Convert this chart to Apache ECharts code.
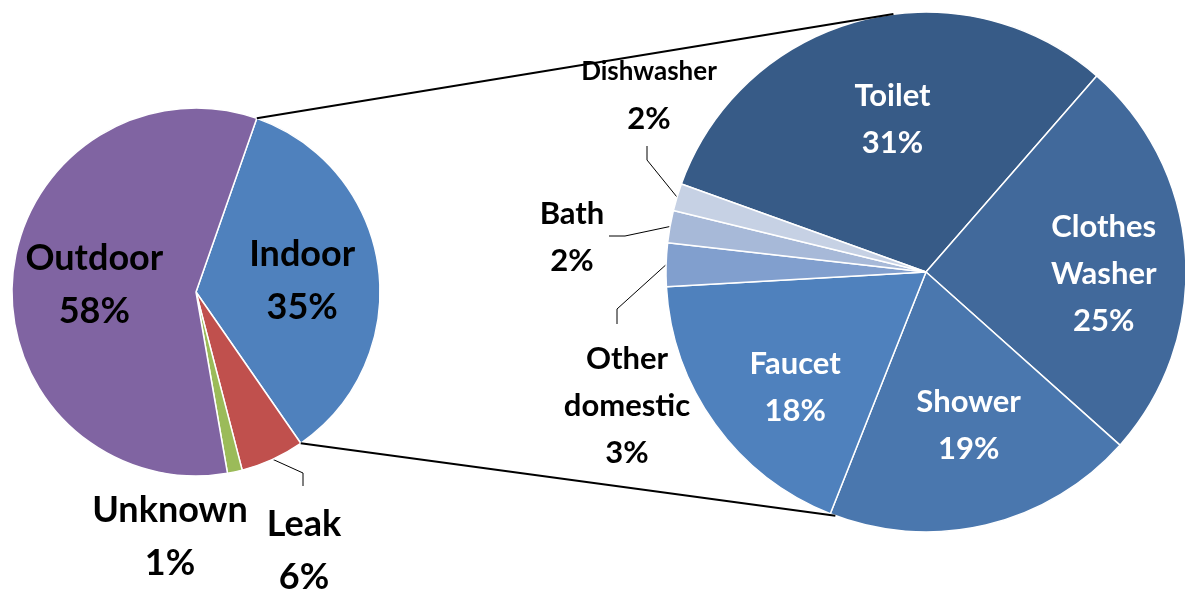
<!DOCTYPE html>
<html>
<head>
	<meta charset="UTF-8">
	<title>Water use pie of pie</title>
	<script src="https://cdn.jsdelivr.net/npm/echarts@6/dist/echarts.min.js"></script>
	<style>
		html, body { margin: 0; padding: 0; background: #fff; }
		#chart { width: 1185px; height: 594px; }
	</style>
</head>
<body>
	<div id="chart"></div>
<script type="text/javascript">
	// main pie (share of all use, %)
	var leftNames = ['Indoor', 'Leak', 'Unknown', 'Outdoor'];
	var leftValues = [35.0, 5.6, 1.3, 58.1];
	var leftColors = ['#4F81BD', '#C0504D', '#9BBB59', '#8064A2'];

	// breakdown of indoor use (%)
	var rightNames = ['Toilet', 'Clothes Washer', 'Shower', 'Faucet', 'Other domestic', 'Bath', 'Dishwasher'];
	var rightValues = [30.9, 25.2, 19.4, 18.1, 2.7, 2.0, 1.7];
	var rightColors = ['#375B87', '#41699B', '#4A77AE', '#4F81BD', '#819FCE', '#A7B9D8', '#C6D1E4'];

	// geometry (px) and start angles (degrees clockwise from 12 o'clock)
	var L = { cx: 196, cy: 292, r: 184, start: 19.3 };
	var R = { cx: 926, cy: 272, r: 260, start: 289.8 };
	var font = 'Lato';

	// labels placed by hand like Excel did
	var nudges = {
		Indoor: [12, 2], Outdoor: [-7, 1],
		Toilet: [0, -24], 'Clothes Washer': [45, 10], Shower: [12, 24], Faucet: [-23, 38]
	};
	var outside = {
		Leak:     { at: [304, 551], line: [[303, 473], [303, 486]] },
		Unknown:  { at: [170, 537], line: null },
		Dishwasher: { at: [649, 95], line: [[647, 160], [647, 146]] },
		Bath:     { at: [572, 237], line: [[625, 236], [609, 236]] },
		'Other domestic': { at: [627, 406], line: [[617, 309], [617, 324]] }
	};

	function arcPt(c, deg) {
		var a = deg * Math.PI / 180;
		return [c.cx + c.r * Math.sin(a), c.cy - c.r * Math.cos(a)];
	}
	function sum(a) { return a.reduce(function (s, v) { return s + v; }, 0); }

	function buildData(names, values, colors, txtColor) {
		return names.map(function (n, i) {
			var o = outside[n];
			return {
				name: n,
				value: values[i],
				itemStyle: { color: colors[i] },
				label: {
					position: o ? 'outside' : 'inside',
					color: o ? '#000' : txtColor
				},
				labelLine: { show: !!(o && o.line) }
			};
		});
	}

	function layoutFor(names, geo, values) {
		var total = sum(values);
		return function (p) {
			var n = names[p.dataIndex];
			var o = outside[n];
			if (!o) {
				var d = nudges[n] || [0, 0];
				return { dx: d[0], dy: d[1] };
			}
			var res = { x: o.at[0], y: o.at[1], align: 'center', verticalAlign: 'middle' };
			if (o.line) {
				var before = sum(values.slice(0, p.dataIndex));
				var mid = geo.start + 360 * (before + values[p.dataIndex] / 2) / total;
				res.labelLinePoints = [arcPt(geo, mid), o.line[0], o.line[1]];
			}
			return res;
		};
	}

	function fmt(p) {
		var name = p.name.replace(' ', '\n');
		var tag = p.name === 'Dishwasher' ? 's' : 'n';
		return '{' + tag + '|' + name.split('\n').join('}\n{' + tag + '|') + '}\n{n|' + Math.round(p.value) + '%}';
	}

	// connector lines from the Indoor slice to the second pie
	var indoorEnd = L.start + 360 * leftValues[0] / sum(leftValues);
	var a1 = arcPt(L, L.start), a2 = arcPt(L, indoorEnd);
	var b1 = arcPt(R, 352.8), b2 = arcPt(R, 200.4);

	var myChart = echarts.init(document.getElementById('chart'));
	var option = {
		animation: false,
		backgroundColor: '#fff',
		graphic: [
			{ type: 'line', z: 100, shape: { x1: a1[0], y1: a1[1], x2: b1[0], y2: b1[1] }, style: { stroke: '#000', lineWidth: 2 } },
			{ type: 'line', z: 100, shape: { x1: a2[0], y1: a2[1], x2: b2[0], y2: b2[1] }, style: { stroke: '#000', lineWidth: 2 } }
		],
		series: [
			{
				type: 'pie',
				center: [L.cx, L.cy],
				radius: [0, L.r],
				startAngle: 90 - L.start,
				clockwise: true,
				avoidLabelOverlap: false,
				itemStyle: { borderColor: '#fff', borderWidth: 1.5 },
				label: {
					formatter: fmt,
					fontFamily: font,
					fontWeight: 'bold',
					rich: {
						n: { fontFamily: font, fontWeight: 'bold', fontSize: 36, lineHeight: 53 }
					}
				},
				labelLine: { lineStyle: { color: '#000', width: 1 } },
				labelLayout: layoutFor(leftNames, L, leftValues),
				data: buildData(leftNames, leftValues, leftColors, '#000')
			},
			{
				type: 'pie',
				center: [R.cx, R.cy],
				radius: [0, R.r],
				startAngle: 90 - R.start,
				clockwise: true,
				avoidLabelOverlap: false,
				itemStyle: { borderColor: '#fff', borderWidth: 1.5 },
				label: {
					formatter: fmt,
					fontFamily: font,
					fontWeight: 'bold',
					rich: {
						n: { fontFamily: font, fontWeight: 'bold', fontSize: 31, lineHeight: 47 },
						s: { fontFamily: font, fontWeight: 'bold', fontSize: 26, lineHeight: 47 }
					}
				},
				labelLine: { lineStyle: { color: '#000', width: 1 } },
				labelLayout: layoutFor(rightNames, R, rightValues),
				data: buildData(rightNames, rightValues, rightColors, '#fff')
			}
		]
	};
	myChart.setOption(option);
</script>
</body>
</html>
